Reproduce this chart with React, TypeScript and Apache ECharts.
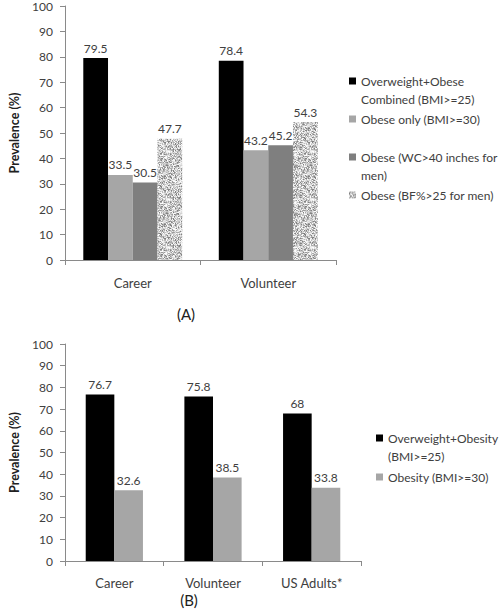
import React, { useEffect, useRef } from "react";
import * as echarts from "echarts";

const categoriesA = ["Career", "Volunteer"];
const overweightObeseA = [79.5, 78.4];
const obeseOnlyA = [33.5, 43.2];
const obeseWcA = [30.5, 45.2];
const obeseBfA = [47.7, 54.3];

const categoriesB = ["Career", "Volunteer", "US Adults*"];
const overweightObesityB = [76.7, 75.8, 68];
const obesityB = [32.6, 38.5, 33.8];

const namesA = [
  "Overweight+Obese\nCombined (BMI>=25)",
  "Obese only (BMI>=30)",
  "Obese (WC>40 inches for\nmen)",
  "Obese (BF%>25 for men)",
];
const namesB = ["Overweight+Obesity\n(BMI>=25)", "Obesity (BMI>=30)"];

const FONT = "Lato";
const TXT = "#404040";
const AXIS = "#8a8a8a";

function makeSpeckle(): HTMLCanvasElement {
  const c = document.createElement("canvas");
  c.width = 48;
  c.height = 48;
  const ctx = c.getContext("2d")!;
  const shades = [252, 242, 232, 222, 210, 198, 186, 172, 155, 130];
  for (let y = 0; y < 48; y++) {
    for (let x = 0; x < 48; x++) {
      let h = (Math.imul(x + 1, 374761393) + Math.imul(y + 7, 668265263)) | 0;
      h = Math.imul(h ^ (h >>> 13), 1274126177);
      h = Math.imul(h ^ (h >>> 15), 2246822519);
      h = (h ^ (h >>> 16)) >>> 0;
      const v = shades[h % shades.length];
      ctx.fillStyle = `rgb(${v},${v},${v})`;
      ctx.fillRect(x, y, 1, 1);
    }
  }
  return c;
}

const twoLineIcon = "path://M0,0L0.01,0M0,5.5L7,5.5L7,12.5L0,12.5ZM0,36L0.01,36";

export default function App() {
  const ref = useRef<HTMLDivElement>(null);
  useEffect(() => {
    if (!ref.current) return;
    const chart = echarts.init(ref.current, undefined, { renderer: "svg" });
    const speckle = makeSpeckle();
    const labelCfg = {
      show: true,
      position: "top" as const,
      distance: 4,
      color: TXT,
      fontFamily: FONT,
      fontSize: 12,
    };
    const yAxisBase = (gridIndex: number) => ({
      type: "value" as const,
      gridIndex,
      min: 0,
      max: 100,
      interval: 10,
      name: "Prevalence (%)",
      nameLocation: "middle" as const,
      nameGap: 44,
      nameRotate: 90,
      nameTextStyle: { fontFamily: FONT, fontSize: 12.5, fontWeight: "bold" as const, color: "#202020" },
      axisLine: { show: true, lineStyle: { color: AXIS } },
      axisTick: { show: true, length: 5, lineStyle: { color: AXIS } },
      splitLine: { show: false },
      axisLabel: { color: TXT, fontFamily: FONT, fontSize: 12, margin: 12 },
    });
    const xAxisBase = (gridIndex: number, data: string[], margin: number) => ({
      type: "category" as const,
      gridIndex,
      data,
      axisLine: { show: true, lineStyle: { color: AXIS } },
      axisTick: { show: true, length: 5, alignWithLabel: false, lineStyle: { color: AXIS } },
      axisLabel: { color: TXT, fontFamily: FONT, fontSize: 13, margin },
    });
    const legendBase = (name: string, left: number, top: number, twoLine: boolean) => ({
      data: [name],
      left,
      top,
      orient: "vertical" as const,
      padding: 0,
      itemWidth: 7,
      itemHeight: twoLine ? 36 : 7,
      icon: twoLine ? twoLineIcon : "rect",
      selectedMode: false,
      textStyle: { color: TXT, fontFamily: FONT, fontSize: 12, lineHeight: 18 },
    });

    chart.setOption({
      animation: false,
      grid: [
        { left: 53, top: 6, width: 283, height: 254 },
        { left: 53, top: 344, width: 308, height: 217 },
      ],
      xAxis: [xAxisBase(0, categoriesA, 16), xAxisBase(1, categoriesB, 15)],
      yAxis: [yAxisBase(0), yAxisBase(1)],
      legend: [
        legendBase(namesA[0], 349, 72, true),
        legendBase(namesA[1], 349, 110, false),
        legendBase(namesA[2], 349, 148, true),
        legendBase(namesA[3], 349, 186, false),
        legendBase(namesB[0], 376, 429, true),
        legendBase(namesB[1], 376, 468, false),
      ],
      graphic: [
        {
          type: "text",
          x: 186,
          y: 314,
          style: { text: "(A)", fontFamily: FONT, fontSize: 15, fill: "#202020", textAlign: "center", textVerticalAlign: "middle" },
        },
        {
          type: "text",
          x: 189,
          y: 600,
          style: { text: "(B)", fontFamily: FONT, fontSize: 15, fill: "#202020", textAlign: "center", textVerticalAlign: "middle" },
        },
      ],
      series: [
        { type: "bar", name: namesA[0], xAxisIndex: 0, yAxisIndex: 0, data: overweightObeseA, itemStyle: { color: "#000000" }, barGap: "0%", barCategoryGap: "27%", label: labelCfg },
        { type: "bar", name: namesA[1], xAxisIndex: 0, yAxisIndex: 0, data: obeseOnlyA, itemStyle: { color: "#a6a6a6" }, label: labelCfg },
        { type: "bar", name: namesA[2], xAxisIndex: 0, yAxisIndex: 0, data: obeseWcA, itemStyle: { color: "#7f7f7f" }, label: labelCfg },
        { type: "bar", name: namesA[3], xAxisIndex: 0, yAxisIndex: 0, data: obeseBfA, itemStyle: { color: { image: speckle, repeat: "repeat" } }, label: labelCfg },
        { type: "bar", name: namesB[0], xAxisIndex: 1, yAxisIndex: 1, data: overweightObesityB, itemStyle: { color: "#000000" }, barGap: "0%", barCategoryGap: "42%", label: labelCfg },
        { type: "bar", name: namesB[1], xAxisIndex: 1, yAxisIndex: 1, data: obesityB, itemStyle: { color: "#a6a6a6" }, label: labelCfg },
      ],
    });
    return () => chart.dispose();
  }, []);
  return (
    <div
      ref={ref}
      style={{ position: "absolute", left: 0, top: 0, width: 501, height: 614, background: "#ffffff" }}
    />
  );
}
